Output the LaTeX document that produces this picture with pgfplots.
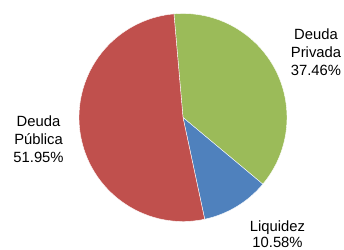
\documentclass[border=0pt]{standalone}
\usepackage{pgfplots}
\usepackage{pgfplotstable}
\pgfplotsset{compat=1.18}
\usepackage{fontspec}
\setmainfont{Liberation Sans}
\definecolor{cGreen}{HTML}{9BBB59}
\definecolor{cBlue}{HTML}{4F81BD}
\definecolor{cRed}{HTML}{C0504D}
\pgfplotstableread{
name value
Privada 37.46
Liquidez 10.58
Publica 51.95
}\pietable
\begin{document}
\begin{tikzpicture}
\pgfplotstablegetelem{0}{value}\of\pietable \let\va\pgfplotsretval
\pgfplotstablegetelem{1}{value}\of\pietable \let\vb\pgfplotsretval
\pgfplotstablegetelem{2}{value}\of\pietable \let\vc\pgfplotsretval
\pgfmathsetmacro{\tot}{\va+\vb+\vc}
\pgfmathsetmacro{\aS}{95}
\pgfmathsetmacro{\aA}{\aS-360*(\va/\tot)}
\pgfmathsetmacro{\aB}{\aA-360*(\vb/\tot)}
\pgfmathsetmacro{\aC}{\aS-360}
\begin{axis}[
  width=344pt, height=249pt, scale only axis,
  xmin=-1.7596, xmax=1.5481, ymin=-1.2644, ymax=1.1298,
  hide axis, clip=false,
]
\coordinate (bl) at (rel axis cs:0,0);
\coordinate (tr) at (rel axis cs:1,1);
\fill[cGreen, draw=white, line width=0.4pt] (axis cs:0,0) -- (axis cs:{cos(\aS)},{sin(\aS)}) arc[start angle=\aS, end angle=\aA, radius=104pt] -- cycle;
\fill[cBlue, draw=white, line width=0.4pt] (axis cs:0,0) -- (axis cs:{cos(\aA)},{sin(\aA)}) arc[start angle=\aA, end angle=\aB, radius=104pt] -- cycle;
\fill[cRed, draw=white, line width=0.4pt] (axis cs:0,0) -- (axis cs:{cos(\aB)},{sin(\aB)}) arc[start angle=\aB, end angle=\aC, radius=104pt] -- cycle;
\node[align=center, font=\fontsize{14.8}{18.2}\selectfont, inner sep=0pt] at (axis cs:1.279,0.630) {Deuda\\Privada\\37.46\%};
\node[align=center, font=\fontsize{14.8}{18.2}\selectfont, inner sep=0pt] at (axis cs:-1.389,-0.207) {Deuda\\Pública\\51.95\%};
\node[align=center, font=\fontsize{14.8}{16.5}\selectfont, inner sep=0pt] at (axis cs:0.909,-1.120) {Liquidez\\10.58\%};
\end{axis}
\pgfresetboundingbox
\useasboundingbox (bl) rectangle (tr);
\end{tikzpicture}
\end{document}
